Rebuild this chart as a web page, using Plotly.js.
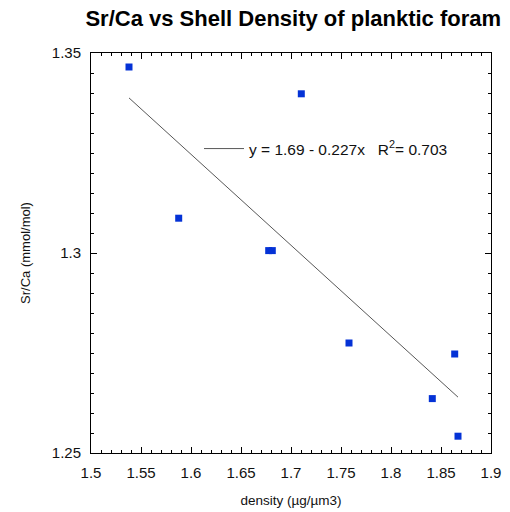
<!DOCTYPE html>
<html><head><meta charset="utf-8">
<script src="https://cdn.plot.ly/plotly-3.0.1.min.js"></script>
<style>html,body{margin:0;padding:0;background:#fff;}#plot{width:510px;height:512px;}</style>
</head><body><div id="plot"></div>
<script>
const density = [1.538, 1.5877, 1.6777, 1.6813, 1.7103, 1.758, 1.8413, 1.8637, 1.867];
const srca = [1.3465, 1.3087, 1.3006, 1.3006, 1.3398, 1.2775, 1.2636, 1.27475, 1.2542];
const fitLabel = 'y = 1.69 - 0.227x   R<sup>2</sup>= 0.703';
const xTicks = [1.5, 1.55, 1.6, 1.65, 1.7, 1.75, 1.8, 1.85, 1.9];
const xTickText = ['1.5', '1.55', '1.6', '1.65', '1.7', '1.75', '1.8', '1.85', '1.9'];
const yTicks = [1.25, 1.3, 1.35];
const yTickText = ['1.25', '1.3', '1.35'];

// least-squares fit from the data
const n = density.length;
const mx = density.reduce((a, b) => a + b, 0) / n;
const my = srca.reduce((a, b) => a + b, 0) / n;
let sxy = 0, sxx = 0;
for (let i = 0; i < n; i++) { sxy += (density[i] - mx) * (srca[i] - my); sxx += (density[i] - mx) ** 2; }
const slope = sxy / sxx, intercept = my - slope * mx;
const xmin = Math.min(...density), xmax = Math.max(...density);
const fitX = [xmin, xmax];
const fitY = fitX.map(v => intercept + slope * v);

const font = 'Liberation Sans, Arial, Helvetica, sans-serif';
const data = [
  {x: fitX, y: fitY, mode: 'lines', name: fitLabel, line: {color: '#444', width: 0.9}, showlegend: true},
  {x: density, y: srca, mode: 'markers', name: 'data', showlegend: false,
   marker: {symbol: 'square', size: 7, color: '#0432d6'}}
];
const axisCommon = {
  showgrid: false, zeroline: false, showline: true, linecolor: '#000', linewidth: 1,
  mirror: 'allticks', ticks: 'inside', ticklen: 6, tickcolor: '#000', tickwidth: 1,
  tickfont: {family: font, size: 15, color: '#111'}
};
const layout = {
  width: 510, height: 512,
  margin: {l: 91, r: 19, t: 53, b: 59},
  paper_bgcolor: '#fff', plot_bgcolor: '#fff',
  title: {text: '<b>Sr/Ca vs Shell Density of planktic foram</b>', font: {family: font, size: 22, color: '#000'},
          x: 0.575, xanchor: 'center', y: 0.965, yanchor: 'middle'},
  xaxis: Object.assign({}, axisCommon, {
    range: [1.5, 1.9], tickmode: 'array', tickvals: xTicks, ticktext: xTickText, ticklabelstandoff: 6,
    minor: {dtick: 0.01, ticks: 'inside', ticklen: 3, tickcolor: '#000'},
    title: {text: 'density (\u00b5g/\u00b5m3)', font: {family: font, size: 13.5, color: '#111'}, standoff: 15}
  }),
  yaxis: Object.assign({}, axisCommon, {
    range: [1.25, 1.35], tickmode: 'array', tickvals: yTicks, ticktext: yTickText, ticklabelstandoff: 6,
    minor: {dtick: 0.005, ticks: 'inside', ticklen: 3, tickcolor: '#000'},
    title: {text: 'Sr/Ca (mmol/mol)', font: {family: font, size: 13, color: '#111'}, standoff: 18}
  }),
  showlegend: true,
  legend: {x: 0.27, y: 0.76, xanchor: 'left', yanchor: 'middle', bgcolor: 'rgba(0,0,0,0)', itemwidth: 40,
           font: {family: font, size: 15.5, color: '#111'}}
};
Plotly.newPlot('plot', data, layout, {displayModeBar: false, staticPlot: true});
</script></body></html>
